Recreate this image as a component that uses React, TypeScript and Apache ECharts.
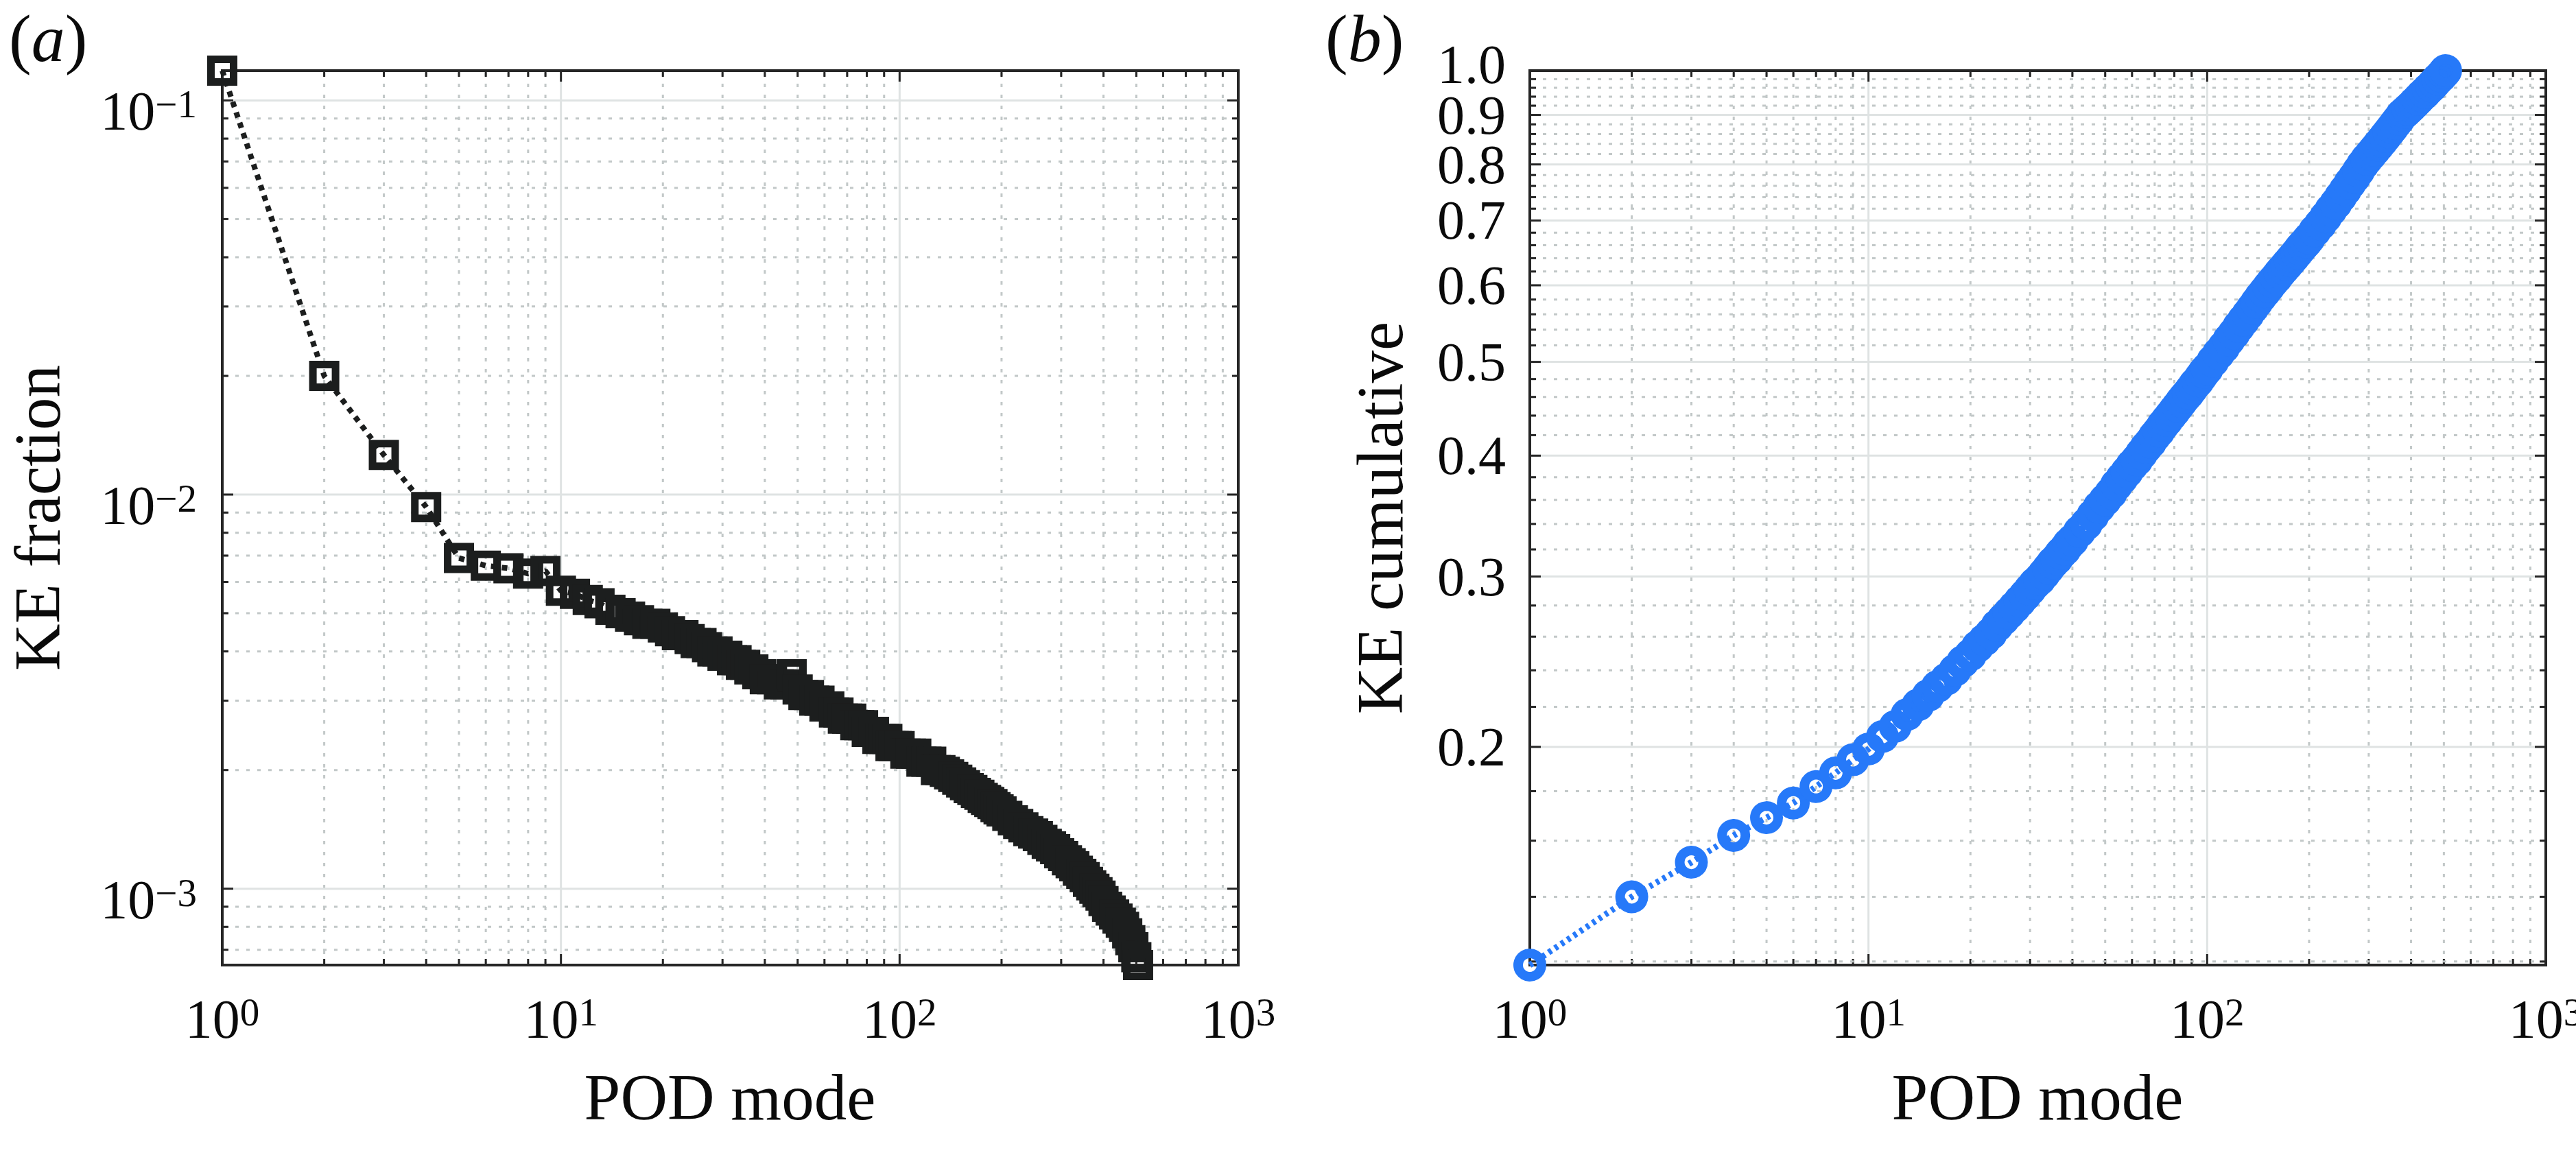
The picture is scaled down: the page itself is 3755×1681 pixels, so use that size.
import React, { useEffect, useRef } from "react";
import * as echarts from "echarts";

// ---------------- data ----------------
const MODES = [
  1, 2, 3, 4, 5, 6, 7, 8, 9, 10,
  11, 12, 13, 14, 15, 16, 17, 18, 19, 20,
  21, 22, 23, 24, 25, 26, 27, 28, 29, 30,
  31, 32, 33, 34, 35, 36, 37, 38, 39, 40,
  42, 44, 46, 48, 50, 52, 54, 56, 58, 60,
  62, 64, 66, 68, 70, 72, 74, 76, 78, 80,
  82, 84, 86, 88, 90, 92, 94, 96, 98, 100,
  104, 108, 112, 116, 120, 124, 128, 132, 136, 140,
  144, 148, 152, 156, 160, 164, 168, 172, 176, 180,
  184, 188, 192, 196, 200,
  208, 216, 224, 232, 240, 248, 256, 264, 272, 280,
  288, 296, 304, 312, 320, 328, 336, 344, 352, 360,
  368, 376, 384, 392, 400,
  410, 420, 430, 440, 450, 460, 470, 480, 490, 500,
  506,
];

const KE_FRACTION = [
  0.119, 0.02, 0.0126, 0.0093, 0.0069, 0.0066, 0.0065, 0.0063, 0.0064, 0.0057,
  0.0056, 0.0054, 0.0053, 0.0051, 0.005, 0.0049, 0.0048, 0.0047, 0.0047, 0.0046,
  0.0045, 0.0044, 0.0044, 0.0043, 0.0042, 0.0042, 0.0041, 0.004, 0.004, 0.0039,
  0.0039, 0.0038, 0.0038, 0.0037, 0.0037, 0.0036, 0.0036, 0.0035, 0.0035, 0.0034,
  0.0034, 0.0033, 0.0033, 0.0035, 0.0032, 0.0031, 0.0031, 0.003, 0.003, 0.0029,
  0.0029, 0.0028, 0.0028, 0.0027, 0.0027, 0.0027, 0.0026, 0.0026, 0.0026, 0.0025,
  0.0025, 0.0025, 0.0024, 0.0024, 0.0024, 0.0024, 0.0023, 0.0023, 0.0023, 0.0023,
  0.0022, 0.0022, 0.0022, 0.0021, 0.0021, 0.0021, 0.002, 0.002, 0.00198, 0.00195,
  0.00192, 0.00189, 0.00186, 0.00183, 0.0018, 0.00178, 0.00175, 0.00173, 0.0017, 0.00168,
  0.00166, 0.00164, 0.00161, 0.00159, 0.00157,
  0.00153, 0.00149, 0.00146, 0.00143, 0.0014, 0.00138, 0.00136, 0.00133, 0.0013, 0.00128,
  0.00126, 0.00123, 0.00121, 0.00118, 0.00116, 0.00114, 0.00111, 0.00109, 0.00107, 0.00104,
  0.00102, 0.001, 0.00098, 0.00096, 0.00093,
  0.0009, 0.00088, 0.00086, 0.00084, 0.00082, 0.0008, 0.00077, 0.00074, 0.00071, 0.00067,
  0.00064,
];

const KE_CUMULATIVE = [
  0.119, 0.14, 0.152, 0.162, 0.169, 0.175, 0.182, 0.188, 0.194, 0.199,
  0.205, 0.21, 0.216, 0.221, 0.226, 0.231, 0.235, 0.24, 0.245, 0.249,
  0.254, 0.258, 0.262, 0.267, 0.271, 0.275, 0.279, 0.283, 0.287, 0.291,
  0.295, 0.298, 0.302, 0.306, 0.31, 0.313, 0.317, 0.32, 0.324, 0.327,
  0.334, 0.34, 0.347, 0.354, 0.36, 0.366, 0.373, 0.379, 0.385, 0.391,
  0.396, 0.402, 0.408, 0.413, 0.419, 0.424, 0.43, 0.435, 0.44, 0.445,
  0.45, 0.455, 0.46, 0.464, 0.469, 0.474, 0.478, 0.483, 0.488, 0.492,
  0.501, 0.51, 0.518, 0.527, 0.535, 0.544, 0.552, 0.56, 0.568, 0.576,
  0.584, 0.591, 0.598, 0.605, 0.611, 0.618, 0.624, 0.63, 0.636, 0.642,
  0.648, 0.654, 0.66, 0.665, 0.671,
  0.683, 0.694, 0.706, 0.718, 0.729, 0.741, 0.753, 0.765, 0.776, 0.788,
  0.8, 0.81, 0.819, 0.828, 0.837, 0.846, 0.855, 0.864, 0.873, 0.882,
  0.891, 0.9, 0.906, 0.912, 0.918,
  0.926, 0.934, 0.942, 0.949, 0.957, 0.964, 0.972, 0.98, 0.987, 0.995,
  1.0,
];

// ---------------- ticks ----------------
const X_MAJOR = [1, 10, 100, 1000];
const X_MAJOR_EXP = ["0", "1", "2", "3"];
const X_MINOR = [
  2, 3, 4, 5, 6, 7, 8, 9,
  20, 30, 40, 50, 60, 70, 80, 90,
  200, 300, 400, 500, 600, 700, 800, 900,
];

const YA_MAJOR = [0.001, 0.01, 0.1];
const YA_MAJOR_EXP = ["\u22123", "\u22122", "\u22121"];
const YA_MINOR = [
  0.0007, 0.0008, 0.0009,
  0.002, 0.003, 0.004, 0.005, 0.006, 0.007, 0.008, 0.009,
  0.02, 0.03, 0.04, 0.05, 0.06, 0.07, 0.08, 0.09,
];

const YB_MAJOR = [0.2, 0.3, 0.4, 0.5, 0.6, 0.7, 0.8, 0.9, 1.0];
const YB_MAJOR_LABELS = ["0.2", "0.3", "0.4", "0.5", "0.6", "0.7", "0.8", "0.9", "1.0"];
const YB_MINOR = [
  0.12, 0.14, 0.16, 0.18,
  0.22, 0.24, 0.26, 0.28,
  0.32, 0.34, 0.36, 0.38,
  0.42, 0.44, 0.46, 0.48,
  0.52, 0.54, 0.56, 0.58,
  0.62, 0.64, 0.66, 0.68,
  0.72, 0.74, 0.76, 0.78,
  0.82, 0.84, 0.86, 0.88,
  0.92, 0.94, 0.96, 0.98,
];

// ---------------- styles ----------------
const FONT = '"Liberation Serif", "Times New Roman", Times, serif';
const TEXT = "#0a0a0a";
const AXIS = "#262626";
const BLACK = "#1c1e1e";
const BLUE = "#2679f9";
const TICK_FS = 80;
const SUP_FS = 57;
const TITLE_FS = 95;

const RICH_POW = {
  b: { fontSize: TICK_FS, fontFamily: FONT, lineHeight: 78, fill: TEXT, color: TEXT },
  s: { fontSize: SUP_FS, fontFamily: FONT, lineHeight: 34, fill: TEXT, color: TEXT, verticalAlign: "top" },
};

type Tick = {
  axis: "x" | "y" | "frame";
  v: number;
  major: boolean;
  label?: string;
  pow?: boolean;
};

function makeTicks(
  xMaj: number[], xLab: string[], xMin: number[],
  yMaj: number[], yLab: string[], yMin: number[], yPow: boolean
): Tick[] {
  const t: Tick[] = [];
  xMin.forEach((v) => t.push({ axis: "x", v, major: false }));
  yMin.forEach((v) => t.push({ axis: "y", v, major: false }));
  xMaj.forEach((v, i) => t.push({ axis: "x", v, major: true, label: xLab[i], pow: true }));
  yMaj.forEach((v, i) => t.push({ axis: "y", v, major: true, label: yLab[i], pow: yPow }));
  t.push({ axis: "frame", v: 0, major: true });
  return t;
}

function seg(x1: number, y1: number, x2: number, y2: number, style: any) {
  return { type: "line", shape: { x1, y1, x2, y2 }, style };
}

function frameSeries(ticks: Tick[], idx: number, xRef: number, yRef: number, yLabelShift: number) {
  return {
    type: "custom",
    xAxisIndex: idx,
    yAxisIndex: idx,
    silent: true,
    z: 1,
    clip: false,
    data: ticks.map((t) =>
      t.axis === "y" ? [xRef, t.v] : t.axis === "x" ? [t.v, yRef] : [xRef, yRef]
    ),
    encode: { x: 0, y: 1 },
    renderItem: (params: any, api: any) => {
      const t = ticks[params.dataIndex];
      const cs = params.coordSys;
      const L = cs.x;
      const T = cs.y;
      const R = cs.x + cs.width;
      const B = cs.y + cs.height;
      const kids: any[] = [];
      if (t.axis === "frame") {
        kids.push({
          type: "rect",
          shape: { x: L, y: T, width: cs.width, height: cs.height },
          style: { fill: "none", stroke: AXIS, lineWidth: 4 },
        });
        return { type: "group", children: kids };
      }
      const len = t.major ? 16 : 9;
      const gridStyle = t.major
        ? { stroke: "#dfe3e3", lineWidth: 3 }
        : { stroke: "#c2c8c8", lineWidth: 3, lineDash: [5, 11] };
      const tickStyle = { stroke: AXIS, lineWidth: 3 };
      if (t.axis === "x") {
        const px = api.coord([t.v, yRef])[0];
        if (px > L + 2 && px < R - 2) {
          kids.push(seg(px, T + 3, px, B - 3, gridStyle));
          kids.push(seg(px, B, px, B - len, tickStyle));
          kids.push(seg(px, T, px, T + len, tickStyle));
        }
        if (t.label !== undefined) {
          kids.push({
            type: "text",
            x: px,
            y: B + 40,
            style: {
              text: `{b|10}{s|${t.label}}`,
              rich: RICH_POW,
              align: "center",
              verticalAlign: "top",
              fill: TEXT,
            },
          });
        }
      } else {
        const py = api.coord([xRef, t.v])[1];
        const atTop = Math.abs(py - T) < 2;
        if (py > T + 2 && py < B - 2) {
          kids.push(seg(L + 3, py, R - 3, py, gridStyle));
          kids.push(seg(L, py, L + len, py, tickStyle));
          kids.push(seg(R, py, R - len, py, tickStyle));
        }
        if (t.label !== undefined) {
          if (t.pow) {
            kids.push({
              type: "text",
              x: L - 37,
              y: py + yLabelShift,
              style: {
                text: `{b|10}{s|${t.label}}`,
                rich: RICH_POW,
                align: "right",
                verticalAlign: "middle",
                fill: TEXT,
              },
            });
          } else {
            kids.push({
              type: "text",
              x: L - 35,
              y: py + yLabelShift + (atTop ? -9 : 0),
              style: {
                text: t.label,
                fontSize: TICK_FS,
                fontFamily: FONT,
                align: "right",
                verticalAlign: "middle",
                fill: TEXT,
              },
            });
          }
        }
      }
      return { type: "group", children: kids };
    },
  };
}

const TICKS_A = makeTicks(X_MAJOR, X_MAJOR_EXP, X_MINOR, YA_MAJOR, YA_MAJOR_EXP, YA_MINOR, true);
const TICKS_B = makeTicks(X_MAJOR, X_MAJOR_EXP, X_MINOR, YB_MAJOR, YB_MAJOR_LABELS, YB_MINOR, false);

function buildOption() {
  const yaMin = Math.min(...KE_FRACTION);
  const yaMax = Math.max(...KE_FRACTION);
  const ybMin = Math.min(...KE_CUMULATIVE);
  const ybMax = Math.max(...KE_CUMULATIVE);

  const titleText = (text: string, x: number, y: number, rotation = 0) => ({
    type: "text",
    x,
    y,
    rotation,
    silent: true,
    style: {
      text,
      fontSize: TITLE_FS,
      fontFamily: FONT,
      fill: TEXT,
      align: "center",
      verticalAlign: "middle",
      textAlign: "center",
      textVerticalAlign: "middle",
    },
  });

  const panelTag = (letter: string, x: number) => ({
    type: "text",
    x,
    y: 56,
    silent: true,
    style: {
      text: `{p|(}{i|${letter}}{p|)}`,
      rich: {
        p: { fontSize: 98, lineHeight: 88, fontFamily: FONT, fill: TEXT, color: TEXT },
        i: { fontSize: 98, lineHeight: 88, fontFamily: FONT, fontStyle: "italic", fill: TEXT, color: TEXT },
      },
      align: "left",
      verticalAlign: "middle",
      textAlign: "left",
      textVerticalAlign: "middle",
    },
  });

  return {
    animation: false,
    backgroundColor: "#ffffff",
    grid: [
      { left: 324, top: 103, width: 1481, height: 1304, containLabel: false },
      { left: 2230, top: 103, width: 1481, height: 1304, containLabel: false },
    ],
    xAxis: [
      { type: "log", logBase: 10, min: 1, max: 1000, gridIndex: 0, show: false },
      { type: "log", logBase: 10, min: 1, max: 1000, gridIndex: 1, show: false },
    ],
    yAxis: [
      { type: "log", logBase: 10, min: yaMin, max: yaMax, gridIndex: 0, show: false },
      { type: "log", logBase: 10, min: ybMin, max: ybMax, gridIndex: 1, show: false },
    ],
    series: [
      frameSeries(TICKS_A, 0, 1, yaMax, 16),
      frameSeries(TICKS_B, 1, 1, ybMax, 0),
      {
        type: "line",
        name: "KE fraction",
        xAxisIndex: 0,
        yAxisIndex: 0,
        z: 3,
        clip: false,
        silent: true,
        showAllSymbol: true,
        symbol: "rect",
        symbolSize: 33,
        data: MODES.map((m, i) => [m, KE_FRACTION[i]]),
        lineStyle: { color: BLACK, width: 8, type: [8, 8], cap: "butt" },
        itemStyle: { color: "rgba(0,0,0,0)", borderColor: BLACK, borderWidth: 11 },
        emphasis: { disabled: true },
      },
      {
        type: "line",
        name: "KE cumulative",
        xAxisIndex: 1,
        yAxisIndex: 1,
        z: 3,
        clip: false,
        silent: true,
        showAllSymbol: true,
        symbol: "circle",
        symbolSize: 34,
        data: MODES.map((m, i) => [m, KE_CUMULATIVE[i]]),
        lineStyle: { color: BLUE, width: 9, type: [5, 6], cap: "butt" },
        itemStyle: { color: "rgba(0,0,0,0)", borderColor: BLUE, borderWidth: 14 },
        emphasis: { disabled: true },
      },
    ],
    graphic: [
      panelTag("a", 13),
      panelTag("b", 1932),
      titleText("KE fraction", 55, 755, Math.PI / 2),
      titleText("KE cumulative", 2012, 755, Math.PI / 2),
      titleText("POD mode", 1064, 1600),
      titleText("POD mode", 2970, 1600),
    ],
  };
}

export default function App() {
  const ref = useRef<HTMLDivElement>(null);
  useEffect(() => {
    if (!ref.current) return;
    const chart = echarts.init(ref.current, null, { renderer: "svg" });
    chart.setOption(buildOption() as any);
    return () => {
      chart.dispose();
    };
  }, []);
  return (
    <div
      ref={ref}
      style={{
        position: "absolute",
        left: 0,
        top: 0,
        width: 3755,
        height: 1681,
        background: "#ffffff",
      }}
    />
  );
}
